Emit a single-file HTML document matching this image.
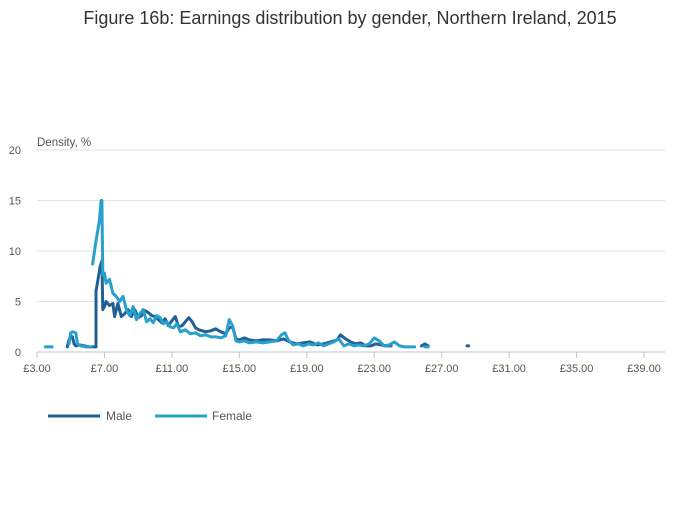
<!DOCTYPE html>
<html><head><meta charset="utf-8"><style>
body{margin:0;background:#fff;font-family:"Liberation Sans",sans-serif}
</style></head><body>
<svg id="chart" width="700" height="502" xmlns="http://www.w3.org/2000/svg">
<text x="350" y="24" text-anchor="middle" font-size="18" fill="#333">Figure 16b: Earnings distribution by gender, Northern Ireland, 2015</text>
<text x="37" y="146" font-size="11.5" fill="#555">Density, %</text>
<g id="grid"></g><g id="series"></g>
<g>
<line x1="48" y1="416" x2="100" y2="416" stroke="#206095" stroke-width="3"/>
<text x="106" y="420" font-size="12" fill="#555">Male</text>
<line x1="155" y1="416" x2="207" y2="416" stroke="#27a0cc" stroke-width="3"/>
<text x="212" y="420" font-size="12" fill="#555">Female</text>
</g>
</svg>
<script>
const xTicks=[3,7,11,15,19,23,27,31,35,39];
const yTicks=[0,5,10,15,20];
const maleX=[[4.8,4.9,5.0,5.1,5.2,5.3,5.5,5.8,6.1,6.45],[6.5,6.5,6.6,6.75,6.85,6.9,7.0,7.1,7.3,7.5,7.6,7.8,8.0,8.2,8.4,8.6,8.8,9.0,9.2,9.4,9.6,9.8,10.0,10.2,10.4,10.6,10.8,11.0,11.2,11.4,11.6,11.8,12.0,12.2,12.4,12.6,12.8,13.0,13.3,13.6,13.9,14.2,14.4,14.6,14.8,15.0,15.3,15.6,16.0,16.4,16.8,17.2,17.6,18.0,18.4,18.8,19.2,19.6,20.0,20.4,20.8,21.0,21.3,21.6,21.9,22.2,22.5,22.8,23.1,23.4,23.7,24.0],[25.8,26.0,26.2],[28.5,28.6]];
const maleY=[[0.5,1.2,1.6,1.5,0.8,0.6,0.7,0.6,0.5,0.5],[0.5,6,7,8.5,9,4.2,4.5,5,4.6,4.8,3.5,4.8,3.5,3.8,4.2,3.5,4.2,3.4,3.6,4.1,3.9,3.6,3.5,3.2,2.9,3.3,2.6,3.1,3.5,2.5,2.6,3.0,3.4,3.0,2.4,2.2,2.1,2.0,2.1,2.3,2.0,1.8,2.4,2.5,1.3,1.2,1.4,1.2,1.1,1.2,1.2,1.1,1.3,1.0,0.8,0.9,1.0,0.7,0.8,1.0,1.2,1.7,1.3,1.0,0.8,0.9,0.6,0.6,0.8,0.7,0.6,0.6],[0.6,0.8,0.6],[0.6,0.6]];
const femaleX=[[3.5,3.9],[4.9,5.0,5.1,5.3,5.4,5.6,5.9,6.2],[6.3,6.5,6.7,6.8,6.85,6.9,7.0,7.1,7.3,7.5,7.7,7.9,8.1,8.3,8.5,8.7,8.9,9.1,9.3,9.5,9.7,9.9,10.1,10.3,10.5,10.7,10.9,11.1,11.3,11.5,11.8,12.1,12.4,12.7,13.0,13.3,13.6,13.9,14.2,14.4,14.6,14.8,15.0,15.3,15.6,16.0,16.4,16.8,17.2,17.5,17.7,17.9,18.2,18.5,18.8,19.1,19.4,19.7,20.0,20.3,20.6,20.9,21.2,21.5,21.8,22.1,22.4,22.7,23.0,23.3,23.6,23.9,24.2,24.5,24.8,25.1,25.4],[26.0,26.2]];
const femaleY=[[0.5,0.5],[0.8,1.9,2.0,1.9,0.8,0.6,0.5,0.5],[8.7,11,13,15,15,7.6,7.8,6.8,7.2,5.8,5.5,5,5.5,4.2,3.6,4.5,3.2,3.8,4.2,3,3.3,2.9,3.6,3.4,2.8,3.0,2.5,2.4,2.8,2.0,2.2,1.8,1.9,1.6,1.7,1.5,1.5,1.4,1.6,3.2,2.6,1.1,1.0,1.1,0.9,1.0,0.9,1.0,1.1,1.7,1.9,1.2,0.7,0.8,0.6,0.8,0.7,0.9,0.6,0.8,1.0,1.3,0.6,0.8,0.6,0.7,0.6,0.8,1.4,1.1,0.6,0.7,1.0,0.6,0.5,0.5,0.5],[0.5,0.5]];
const X0=37,X1=644,Y0=352,Y1=150;
const xs=v=>X0+(v-3)*(X1-X0)/36, ys=v=>Y0-v*(Y0-Y1)/20;
const NS="http://www.w3.org/2000/svg";
const grid=document.getElementById('grid'), ser=document.getElementById('series');
function mk(tag,attrs,parent){const e=document.createElementNS(NS,tag);for(const k in attrs)e.setAttribute(k,attrs[k]);parent.appendChild(e);return e;}
yTicks.forEach(t=>{
  const l=mk('line',{x1:X0,x2:665,y1:ys(t),y2:ys(t),stroke:t===0?'#b8c6dc':'#e2e2e2','stroke-width':1},grid);
  
  
  const tx=mk('text',{x:21,y:ys(t)+4,'text-anchor':'end','font-size':11,fill:'#555'},grid);tx.textContent=t;
  
  
});
xTicks.forEach(t=>{
  const l=mk('line',{x1:xs(t),x2:xs(t),y1:Y0,y2:Y0+6,stroke:'#b8c6dc'},grid);
  
  
  const tx=mk('text',{x:xs(t),y:372,'text-anchor':'middle','font-size':11,fill:'#555'},grid);tx.textContent='£'+t.toFixed(2);
  
  
});
function draw(X,Y,color,name){
  X.forEach((seg,i)=>{
    const d=seg.map((v,j)=>(j?'L':'M')+xs(v).toFixed(1)+','+ys(Y[i][j]).toFixed(1)).join('');
    const p=mk('path',{d:d,fill:'none',stroke:color,'stroke-width':3,'stroke-linejoin':'round','stroke-linecap':'round'},ser);
    
    
  });
}
draw(maleX,maleY,'#206095','male-line');
draw(femaleX,femaleY,'#27a0cc','female-line');
</script>
</body></html>
